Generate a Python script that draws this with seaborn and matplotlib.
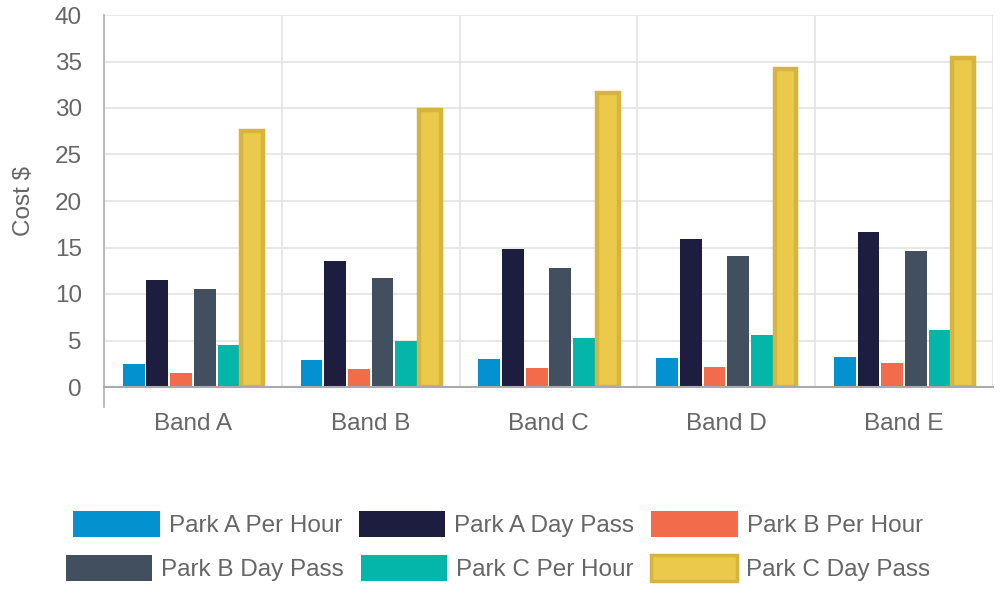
import matplotlib
matplotlib.use("Agg")
import matplotlib.pyplot as plt
import seaborn as sns
import pandas as pd
import numpy as np
from matplotlib.patches import Patch

bands = ["Band A", "Band B", "Band C", "Band D", "Band E"]
series = ["Park A Per Hour", "Park A Day Pass", "Park B Per Hour",
          "Park B Day Pass", "Park C Per Hour", "Park C Day Pass"]
park_a_hour = [2.5, 2.9, 3.0, 3.1, 3.2]
park_a_day = [11.5, 13.5, 14.8, 15.9, 16.7]
park_b_hour = [1.5, 1.9, 2.0, 2.1, 2.6]
park_b_day = [10.5, 11.7, 12.8, 14.1, 14.6]
park_c_hour = [4.5, 5.0, 5.3, 5.6, 6.1]
park_c_day = [27.5, 29.8, 31.6, 34.2, 35.4]
colors = ["#0392CF", "#1D1D40", "#F26B4A", "#424F5E", "#04B5AA", "#EBC94A"]
gold_edge = "#D6B43F"

values = [park_a_hour, park_a_day, park_b_hour, park_b_day, park_c_hour, park_c_day]
rows = []
for s, vals in zip(series, values):
    for b, v in zip(bands, vals):
        rows.append({"band": b, "series": s, "cost": v})
df = pd.DataFrame(rows)

sns.set_style("white")
plt.rcParams["font.family"] = ["Liberation Sans", "DejaVu Sans"]
txt = "#666666"
fs = 17.5

fig = plt.figure(figsize=(10, 6), dpi=100)
ax = fig.add_axes([0.104, 0.355, 0.889, 0.62])

sns.barplot(data=df, x="band", y="cost", hue="series", hue_order=series,
            palette=colors, width=0.8, gap=0.08, ax=ax, legend=False,
            edgecolor="none", linewidth=0, saturation=1)

# gold bars border
for p in ax.patches:
    fc = matplotlib.colors.to_hex(p.get_facecolor())
    if fc.lower() == colors[5].lower():
        p.set_edgecolor(gold_edge)
        p.set_linewidth(3.2)

ax.set_ylim(0, 40)
ax.set_xlim(-0.5, 4.5)
ax.set_yticks(np.arange(0, 41, 5))
ax.set_xlabel("")
ax.set_ylabel("Cost $", fontsize=fs, color=txt, labelpad=14)
ax.tick_params(axis="y", labelsize=fs, labelcolor=txt, length=13, width=1.2,
               color="#e0e0e0", pad=3)
ax.tick_params(axis="x", which="major", labelsize=fs, labelcolor=txt, length=0, pad=19)
ax.set_xticks(np.arange(-0.5, 5, 1), minor=True)
ax.tick_params(axis="x", which="minor", length=15, width=1.2, color="#e0e0e0")

ax.grid(axis="y", color="#e3e3e3", linewidth=1.2)
ax.grid(axis="x", which="minor", color="#e3e3e3", linewidth=1.2)
ax.grid(axis="x", which="major", visible=False)
ax.set_axisbelow(True)

for s in ["top", "right"]:
    ax.spines[s].set_visible(False)
ax.spines["left"].set_color("#b0b0b0")
ax.spines["left"].set_linewidth(1.2)
ax.spines["left"].set_bounds(-2.15, 40)
ax.spines["bottom"].set_color("#aaaaaa")
ax.spines["bottom"].set_linewidth(1.5)

handles = []
for s, c in zip(series, colors):
    if c == colors[5]:
        handles.append(Patch(facecolor=c, edgecolor=gold_edge, linewidth=2.5, label=s))
    else:
        handles.append(Patch(facecolor=c, edgecolor="none", label=s))

common = dict(frameon=False, ncol=3, fontsize=fs, handlelength=3.55, handleheight=1.25,
              handletextpad=0.37, columnspacing=0.7, labelcolor=txt, loc="center",
              borderaxespad=0, borderpad=0)
leg1 = fig.legend(handles=handles[:3], bbox_to_anchor=(0.498, 1 - 524 / 600), **common)
leg2 = fig.legend(handles=handles[3:], bbox_to_anchor=(0.498, 1 - 568 / 600), **common)

fig.savefig("out.png", dpi=100)
